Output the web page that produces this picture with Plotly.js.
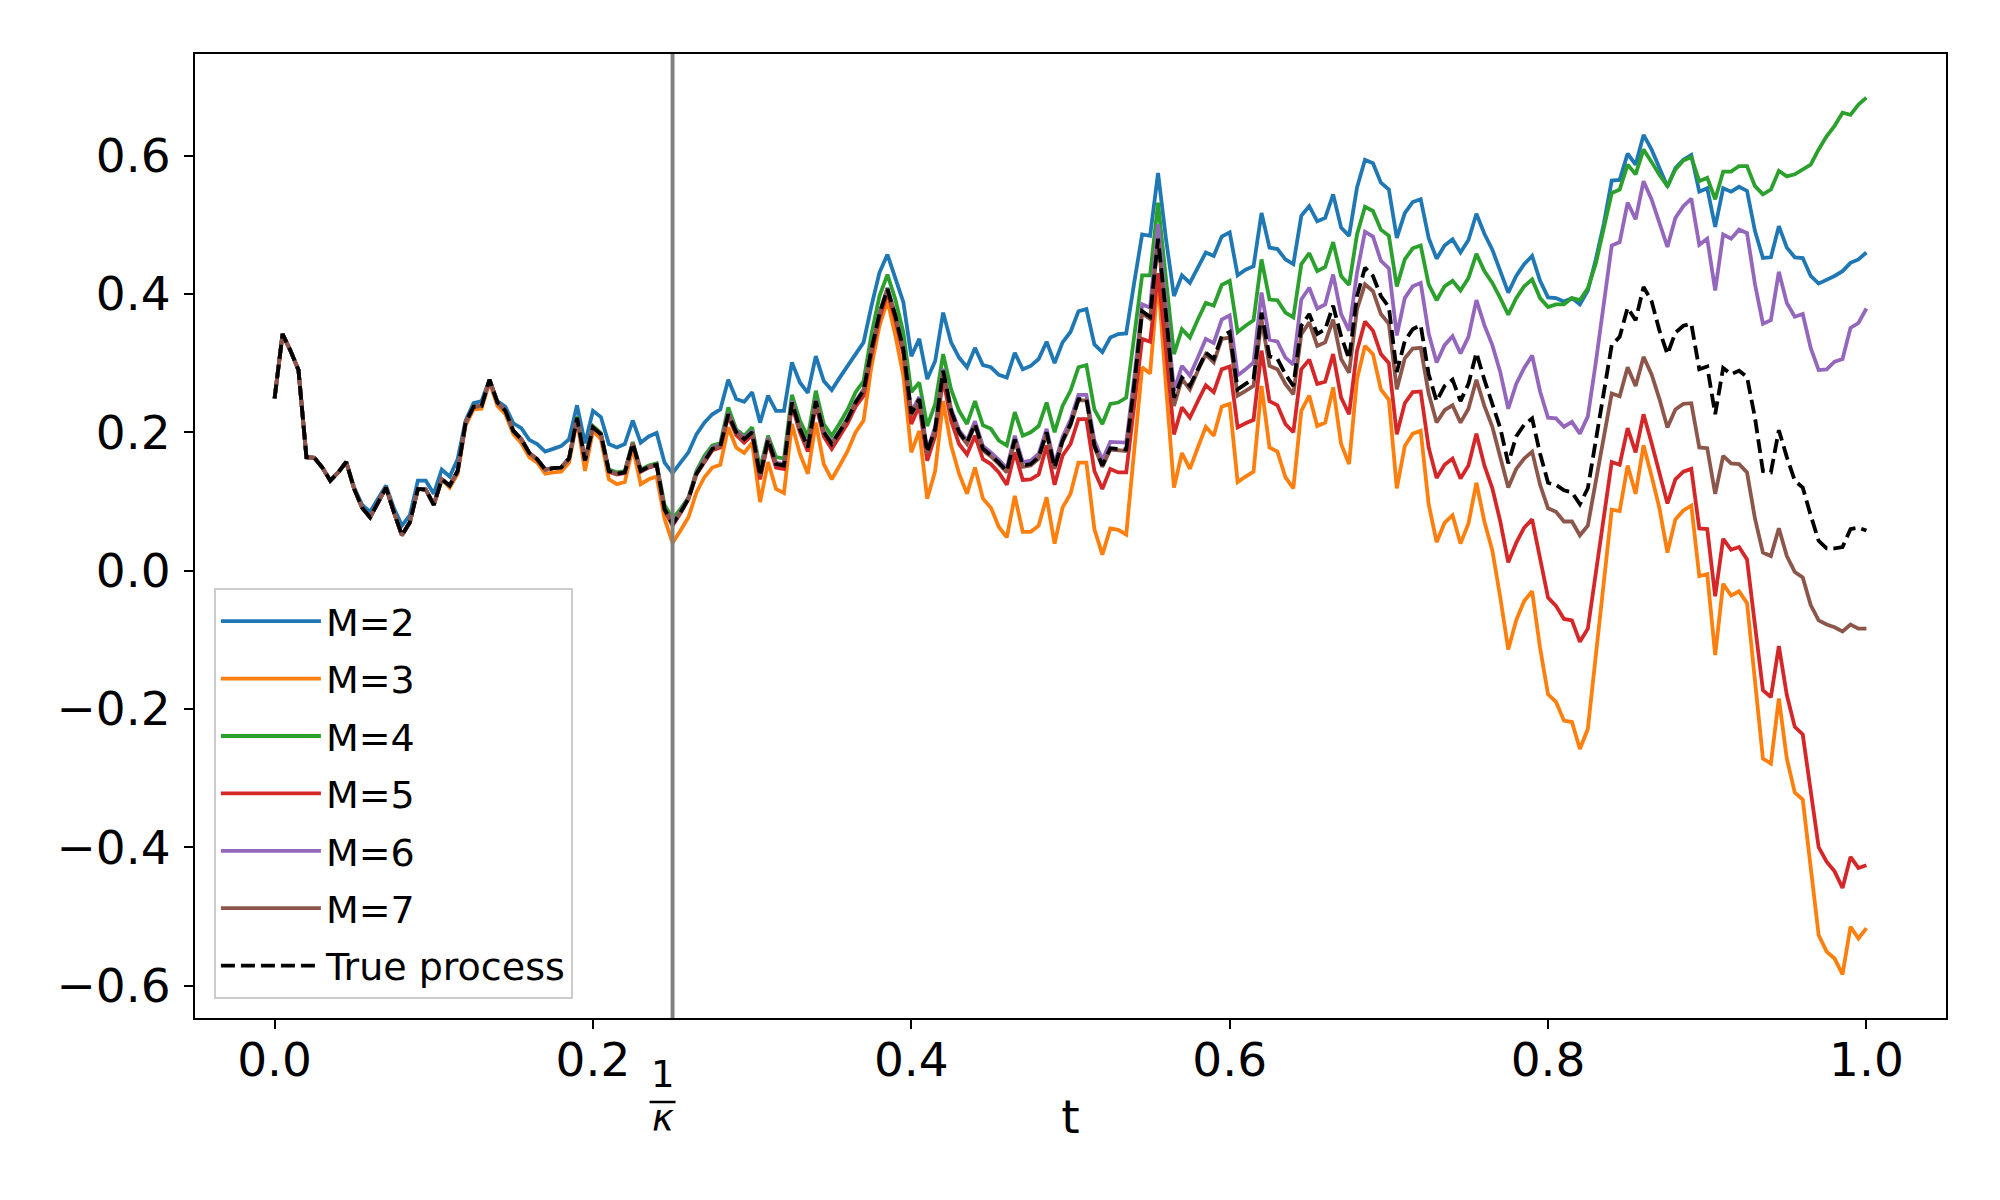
<!doctype html>
<html>
<head>
    <meta charset="utf-8">
    <title>M comparison</title>
    <style>
        body {margin: 0; background: #ffffff;}
    </style>
    <script src="https://cdn.plot.ly/plotly-3.0.1.min.js"></script>
    <script>
        // ====== DATA ==================================================
        const t = [
            0, 0.005, 0.01, 0.015, 0.02, 0.025, 0.03, 0.035, 0.04, 0.045,
            0.05, 0.055, 0.06, 0.065, 0.07, 0.075, 0.08, 0.085, 0.09, 0.095,
            0.1, 0.105, 0.11, 0.115, 0.12, 0.125, 0.13, 0.135, 0.14, 0.145,
            0.15, 0.155, 0.16, 0.165, 0.17, 0.175, 0.18, 0.185, 0.19, 0.195,
            0.2, 0.205, 0.21, 0.215, 0.22, 0.225, 0.23, 0.235, 0.24, 0.245,
            0.25, 0.255, 0.26, 0.265, 0.27, 0.275, 0.28, 0.285, 0.29, 0.295,
            0.3, 0.305, 0.31, 0.315, 0.32, 0.325, 0.33, 0.335, 0.34, 0.345,
            0.35, 0.355, 0.36, 0.365, 0.37, 0.375, 0.38, 0.385, 0.39, 0.395,
            0.4, 0.405, 0.41, 0.415, 0.42, 0.425, 0.43, 0.435, 0.44, 0.445,
            0.45, 0.455, 0.46, 0.465, 0.47, 0.475, 0.48, 0.485, 0.49, 0.495,
            0.5, 0.505, 0.51, 0.515, 0.52, 0.525, 0.53, 0.535, 0.54, 0.545,
            0.55, 0.555, 0.56, 0.565, 0.57, 0.575, 0.58, 0.585, 0.59, 0.595,
            0.6, 0.605, 0.61, 0.615, 0.62, 0.625, 0.63, 0.635, 0.64, 0.645,
            0.65, 0.655, 0.66, 0.665, 0.67, 0.675, 0.68, 0.685, 0.69, 0.695,
            0.7, 0.705, 0.71, 0.715, 0.72, 0.725, 0.73, 0.735, 0.74, 0.745,
            0.75, 0.755, 0.76, 0.765, 0.77, 0.775, 0.78, 0.785, 0.79, 0.795,
            0.8, 0.805, 0.81, 0.815, 0.82, 0.825, 0.83, 0.835, 0.84, 0.845,
            0.85, 0.855, 0.86, 0.865, 0.87, 0.875, 0.88, 0.885, 0.89, 0.895,
            0.9, 0.905, 0.91, 0.915, 0.92, 0.925, 0.93, 0.935, 0.94, 0.945,
            0.95, 0.955, 0.96, 0.965, 0.97, 0.975, 0.98, 0.985, 0.99, 0.995,
            1.0
        ];

        const m2 = [
            0.249, 0.342, 0.318, 0.290, 0.164, 0.163, 0.149, 0.130, 0.142, 0.157,
            0.120, 0.095, 0.085, 0.104, 0.123, 0.090, 0.065, 0.080, 0.130, 0.130,
            0.111, 0.146, 0.136, 0.161, 0.217, 0.242, 0.245, 0.276, 0.245, 0.237,
            0.213, 0.206, 0.189, 0.183, 0.172, 0.176, 0.180, 0.190, 0.239, 0.184,
            0.231, 0.222, 0.183, 0.178, 0.183, 0.217, 0.185, 0.194, 0.199, 0.156,
            0.141, 0.156, 0.171, 0.197, 0.214, 0.226, 0.233, 0.276, 0.248, 0.244,
            0.258, 0.214, 0.253, 0.231, 0.231, 0.301, 0.272, 0.257, 0.310, 0.274,
            0.261, 0.279, 0.296, 0.315, 0.330, 0.383, 0.431, 0.457, 0.421, 0.388,
            0.310, 0.335, 0.277, 0.303, 0.373, 0.330, 0.308, 0.294, 0.322, 0.297,
            0.294, 0.283, 0.279, 0.315, 0.291, 0.296, 0.306, 0.331, 0.300, 0.330,
            0.345, 0.375, 0.378, 0.327, 0.316, 0.337, 0.342, 0.343, 0.416, 0.486,
            0.484, 0.575, 0.479, 0.397, 0.427, 0.416, 0.438, 0.460, 0.455, 0.483,
            0.489, 0.427, 0.435, 0.440, 0.517, 0.467, 0.465, 0.450, 0.443, 0.513,
            0.527, 0.505, 0.510, 0.544, 0.496, 0.484, 0.554, 0.594, 0.589, 0.561,
            0.551, 0.481, 0.517, 0.533, 0.537, 0.481, 0.451, 0.470, 0.479, 0.460,
            0.478, 0.516, 0.487, 0.464, 0.433, 0.402, 0.426, 0.443, 0.455, 0.419,
            0.395, 0.394, 0.389, 0.394, 0.385, 0.405, 0.450, 0.501, 0.564, 0.565,
            0.603, 0.587, 0.630, 0.609, 0.582, 0.555, 0.582, 0.594, 0.601, 0.548,
            0.553, 0.497, 0.553, 0.548, 0.555, 0.549, 0.491, 0.452, 0.453, 0.498,
            0.467, 0.453, 0.452, 0.426, 0.415, 0.420, 0.426, 0.433, 0.445, 0.450,
            0.460
        ];

        const m3 = [
            0.249, 0.342, 0.318, 0.290, 0.164, 0.163, 0.149, 0.130, 0.142, 0.157,
            0.118, 0.091, 0.077, 0.099, 0.120, 0.084, 0.051, 0.070, 0.118, 0.117,
            0.095, 0.132, 0.120, 0.140, 0.210, 0.233, 0.234, 0.272, 0.238, 0.226,
            0.197, 0.184, 0.164, 0.156, 0.140, 0.142, 0.143, 0.156, 0.217, 0.144,
            0.202, 0.190, 0.132, 0.125, 0.128, 0.178, 0.125, 0.132, 0.136, 0.075,
            0.040, 0.058, 0.077, 0.113, 0.135, 0.149, 0.153, 0.207, 0.178, 0.170,
            0.185, 0.099, 0.157, 0.118, 0.112, 0.212, 0.169, 0.140, 0.214, 0.154,
            0.132, 0.152, 0.173, 0.200, 0.217, 0.296, 0.354, 0.390, 0.340, 0.282,
            0.171, 0.202, 0.104, 0.144, 0.245, 0.181, 0.140, 0.111, 0.149, 0.104,
            0.091, 0.063, 0.048, 0.108, 0.056, 0.056, 0.065, 0.106, 0.039, 0.091,
            0.111, 0.156, 0.156, 0.060, 0.023, 0.061, 0.059, 0.052, 0.180, 0.294,
            0.285, 0.421, 0.267, 0.120, 0.170, 0.147, 0.178, 0.208, 0.195, 0.237,
            0.241, 0.128, 0.136, 0.143, 0.267, 0.178, 0.172, 0.135, 0.119, 0.231,
            0.253, 0.209, 0.214, 0.265, 0.183, 0.154, 0.277, 0.325, 0.313, 0.262,
            0.247, 0.119, 0.180, 0.198, 0.202, 0.096, 0.041, 0.069, 0.080, 0.039,
            0.068, 0.127, 0.071, 0.029, -0.039, -0.114, -0.072, -0.044, -0.030, -0.112,
            -0.179, -0.190, -0.217, -0.219, -0.258, -0.229, -0.123, -0.016, 0.088, 0.086,
            0.152, 0.111, 0.181, 0.137, 0.090, 0.026, 0.074, 0.087, 0.094, -0.008,
            -0.005, -0.122, -0.019, -0.036, -0.030, -0.047, -0.166, -0.272, -0.279, -0.185,
            -0.272, -0.321, -0.331, -0.431, -0.527, -0.551, -0.561, -0.584, -0.515, -0.532,
            -0.517
        ];

        const m4 = [
            0.249, 0.342, 0.318, 0.290, 0.164, 0.163, 0.149, 0.130, 0.142, 0.157,
            0.118, 0.091, 0.077, 0.099, 0.120, 0.084, 0.051, 0.070, 0.118, 0.117,
            0.095, 0.132, 0.123, 0.144, 0.214, 0.237, 0.238, 0.276, 0.243, 0.231,
            0.202, 0.190, 0.170, 0.161, 0.146, 0.148, 0.149, 0.162, 0.223, 0.161,
            0.209, 0.199, 0.146, 0.142, 0.144, 0.186, 0.146, 0.152, 0.155, 0.095,
            0.075, 0.089, 0.106, 0.144, 0.166, 0.181, 0.184, 0.236, 0.204, 0.195,
            0.207, 0.147, 0.195, 0.164, 0.162, 0.254, 0.217, 0.193, 0.260, 0.212,
            0.195, 0.213, 0.233, 0.258, 0.274, 0.342, 0.397, 0.428, 0.392, 0.344,
            0.258, 0.272, 0.209, 0.241, 0.313, 0.262, 0.231, 0.212, 0.245, 0.210,
            0.205, 0.188, 0.181, 0.229, 0.195, 0.200, 0.209, 0.243, 0.200, 0.238,
            0.260, 0.294, 0.297, 0.233, 0.212, 0.241, 0.243, 0.250, 0.338, 0.427,
            0.427, 0.532, 0.421, 0.313, 0.349, 0.337, 0.363, 0.387, 0.383, 0.413,
            0.419, 0.345, 0.354, 0.362, 0.450, 0.392, 0.391, 0.373, 0.366, 0.443,
            0.459, 0.433, 0.439, 0.475, 0.426, 0.413, 0.486, 0.526, 0.520, 0.493,
            0.484, 0.411, 0.450, 0.466, 0.470, 0.414, 0.391, 0.411, 0.419, 0.405,
            0.423, 0.458, 0.433, 0.416, 0.394, 0.370, 0.394, 0.411, 0.421, 0.394,
            0.381, 0.385, 0.385, 0.394, 0.391, 0.408, 0.444, 0.495, 0.546, 0.551,
            0.587, 0.573, 0.609, 0.591, 0.572, 0.556, 0.580, 0.593, 0.598, 0.563,
            0.568, 0.537, 0.577, 0.577, 0.585, 0.585, 0.556, 0.544, 0.551, 0.578,
            0.570, 0.573, 0.580, 0.587, 0.609, 0.628, 0.643, 0.662, 0.659, 0.674,
            0.684
        ];

        const m5 = [
            0.249, 0.342, 0.318, 0.290, 0.164, 0.163, 0.149, 0.130, 0.142, 0.157,
            0.118, 0.091, 0.077, 0.099, 0.120, 0.084, 0.051, 0.070, 0.118, 0.117,
            0.095, 0.132, 0.123, 0.144, 0.214, 0.237, 0.238, 0.276, 0.243, 0.231,
            0.202, 0.190, 0.170, 0.161, 0.146, 0.148, 0.149, 0.162, 0.221, 0.159,
            0.207, 0.197, 0.143, 0.139, 0.141, 0.183, 0.143, 0.149, 0.152, 0.087,
            0.065, 0.083, 0.103, 0.139, 0.157, 0.174, 0.178, 0.223, 0.196, 0.185,
            0.196, 0.132, 0.186, 0.149, 0.147, 0.239, 0.200, 0.172, 0.240, 0.194,
            0.176, 0.194, 0.213, 0.237, 0.253, 0.313, 0.365, 0.402, 0.362, 0.313,
            0.212, 0.238, 0.159, 0.195, 0.277, 0.217, 0.183, 0.168, 0.195, 0.161,
            0.154, 0.142, 0.124, 0.171, 0.131, 0.132, 0.139, 0.181, 0.124, 0.166,
            0.183, 0.219, 0.219, 0.144, 0.118, 0.147, 0.142, 0.142, 0.235, 0.335,
            0.331, 0.430, 0.320, 0.197, 0.236, 0.221, 0.245, 0.268, 0.258, 0.291,
            0.295, 0.207, 0.213, 0.218, 0.318, 0.245, 0.239, 0.212, 0.200, 0.291,
            0.305, 0.270, 0.273, 0.313, 0.250, 0.226, 0.318, 0.360, 0.347, 0.313,
            0.300, 0.197, 0.242, 0.258, 0.259, 0.178, 0.134, 0.153, 0.162, 0.133,
            0.152, 0.198, 0.152, 0.119, 0.071, 0.012, 0.040, 0.062, 0.074, 0.017,
            -0.039, -0.051, -0.070, -0.072, -0.103, -0.084, -0.003, 0.076, 0.157, 0.153,
            0.206, 0.171, 0.226, 0.185, 0.142, 0.097, 0.132, 0.143, 0.147, 0.061,
            0.060, -0.037, 0.046, 0.030, 0.034, 0.016, -0.079, -0.173, -0.183, -0.109,
            -0.180, -0.226, -0.237, -0.318, -0.400, -0.421, -0.435, -0.459, -0.414, -0.430,
            -0.426
        ];

        const m6 = [
            0.249, 0.342, 0.318, 0.290, 0.164, 0.163, 0.149, 0.130, 0.142, 0.157,
            0.118, 0.091, 0.077, 0.099, 0.120, 0.084, 0.051, 0.070, 0.118, 0.117,
            0.095, 0.132, 0.123, 0.144, 0.214, 0.237, 0.238, 0.276, 0.243, 0.231,
            0.202, 0.190, 0.170, 0.161, 0.146, 0.148, 0.149, 0.162, 0.221, 0.159,
            0.207, 0.197, 0.144, 0.140, 0.142, 0.184, 0.144, 0.150, 0.153, 0.089,
            0.068, 0.085, 0.105, 0.141, 0.161, 0.178, 0.182, 0.228, 0.202, 0.192,
            0.202, 0.139, 0.192, 0.156, 0.154, 0.245, 0.207, 0.180, 0.247, 0.202,
            0.185, 0.202, 0.221, 0.245, 0.262, 0.322, 0.373, 0.409, 0.370, 0.322,
            0.229, 0.251, 0.174, 0.208, 0.292, 0.234, 0.203, 0.188, 0.216, 0.180,
            0.171, 0.160, 0.148, 0.195, 0.157, 0.159, 0.169, 0.205, 0.154, 0.193,
            0.218, 0.254, 0.254, 0.188, 0.160, 0.186, 0.186, 0.185, 0.278, 0.385,
            0.380, 0.501, 0.383, 0.260, 0.296, 0.282, 0.308, 0.335, 0.329, 0.363,
            0.369, 0.282, 0.291, 0.301, 0.402, 0.334, 0.331, 0.308, 0.298, 0.392,
            0.409, 0.379, 0.385, 0.428, 0.371, 0.347, 0.431, 0.490, 0.483, 0.448,
            0.437, 0.340, 0.394, 0.411, 0.416, 0.343, 0.301, 0.326, 0.339, 0.314,
            0.338, 0.391, 0.355, 0.326, 0.287, 0.234, 0.270, 0.293, 0.311, 0.259,
            0.221, 0.220, 0.208, 0.215, 0.198, 0.223, 0.301, 0.388, 0.470, 0.475,
            0.532, 0.508, 0.563, 0.537, 0.504, 0.468, 0.510, 0.527, 0.538, 0.471,
            0.480, 0.405, 0.486, 0.480, 0.493, 0.488, 0.414, 0.357, 0.362, 0.432,
            0.387, 0.367, 0.371, 0.322, 0.290, 0.291, 0.302, 0.306, 0.351, 0.358,
            0.379
        ];

        const m7 = [
            0.249, 0.342, 0.318, 0.290, 0.164, 0.163, 0.149, 0.130, 0.142, 0.157,
            0.118, 0.091, 0.077, 0.099, 0.120, 0.084, 0.051, 0.070, 0.118, 0.117,
            0.095, 0.132, 0.123, 0.144, 0.214, 0.237, 0.238, 0.276, 0.243, 0.231,
            0.202, 0.190, 0.170, 0.161, 0.146, 0.148, 0.149, 0.162, 0.221, 0.159,
            0.207, 0.197, 0.144, 0.140, 0.142, 0.184, 0.144, 0.150, 0.153, 0.089,
            0.067, 0.084, 0.104, 0.140, 0.159, 0.176, 0.180, 0.226, 0.200, 0.190,
            0.200, 0.137, 0.190, 0.154, 0.152, 0.243, 0.205, 0.178, 0.245, 0.200,
            0.183, 0.200, 0.219, 0.243, 0.260, 0.320, 0.371, 0.407, 0.368, 0.320,
            0.225, 0.246, 0.169, 0.203, 0.287, 0.229, 0.198, 0.183, 0.210, 0.174,
            0.165, 0.154, 0.142, 0.188, 0.150, 0.152, 0.162, 0.198, 0.147, 0.186,
            0.210, 0.246, 0.246, 0.179, 0.150, 0.175, 0.174, 0.173, 0.265, 0.372,
            0.364, 0.478, 0.366, 0.238, 0.277, 0.262, 0.289, 0.313, 0.301, 0.335,
            0.337, 0.253, 0.260, 0.267, 0.363, 0.296, 0.291, 0.270, 0.255, 0.342,
            0.359, 0.325, 0.330, 0.363, 0.306, 0.286, 0.378, 0.414, 0.404, 0.371,
            0.357, 0.262, 0.307, 0.321, 0.322, 0.256, 0.214, 0.232, 0.239, 0.214,
            0.234, 0.276, 0.238, 0.208, 0.164, 0.120, 0.147, 0.162, 0.172, 0.124,
            0.090, 0.085, 0.071, 0.071, 0.051, 0.065, 0.129, 0.193, 0.256, 0.252,
            0.294, 0.267, 0.309, 0.284, 0.248, 0.207, 0.233, 0.241, 0.242, 0.178,
            0.177, 0.111, 0.166, 0.155, 0.154, 0.142, 0.075, 0.026, 0.021, 0.061,
            0.021, -0.002, -0.010, -0.050, -0.072, -0.078, -0.082, -0.088, -0.078, -0.084,
            -0.084
        ];

        const trueProcess = [
            0.249, 0.342, 0.318, 0.290, 0.164, 0.163, 0.149, 0.130, 0.142, 0.157,
            0.118, 0.091, 0.077, 0.099, 0.120, 0.084, 0.051, 0.070, 0.118, 0.117,
            0.095, 0.132, 0.123, 0.144, 0.214, 0.237, 0.238, 0.276, 0.243, 0.231,
            0.202, 0.190, 0.170, 0.161, 0.146, 0.148, 0.149, 0.162, 0.221, 0.159,
            0.207, 0.197, 0.144, 0.140, 0.142, 0.184, 0.144, 0.150, 0.153, 0.089,
            0.067, 0.084, 0.104, 0.140, 0.159, 0.176, 0.180, 0.226, 0.200, 0.190,
            0.200, 0.137, 0.190, 0.154, 0.152, 0.243, 0.205, 0.178, 0.245, 0.200,
            0.183, 0.200, 0.219, 0.243, 0.260, 0.320, 0.371, 0.407, 0.368, 0.320,
            0.227, 0.248, 0.171, 0.205, 0.289, 0.231, 0.200, 0.185, 0.212, 0.176,
            0.167, 0.156, 0.144, 0.190, 0.152, 0.154, 0.164, 0.200, 0.149, 0.188,
            0.212, 0.248, 0.248, 0.181, 0.152, 0.177, 0.176, 0.175, 0.268, 0.375,
            0.367, 0.480, 0.370, 0.250, 0.279, 0.267, 0.291, 0.315, 0.306, 0.339,
            0.345, 0.262, 0.270, 0.277, 0.373, 0.310, 0.306, 0.284, 0.267, 0.354,
            0.371, 0.342, 0.349, 0.383, 0.339, 0.306, 0.397, 0.438, 0.426, 0.397,
            0.381, 0.287, 0.332, 0.349, 0.355, 0.284, 0.245, 0.267, 0.276, 0.245,
            0.270, 0.315, 0.276, 0.242, 0.206, 0.155, 0.194, 0.211, 0.220, 0.169,
            0.127, 0.124, 0.116, 0.113, 0.096, 0.119, 0.189, 0.259, 0.326, 0.338,
            0.380, 0.362, 0.410, 0.390, 0.347, 0.313, 0.344, 0.354, 0.357, 0.291,
            0.295, 0.226, 0.293, 0.284, 0.289, 0.280, 0.221, 0.144, 0.142, 0.203,
            0.164, 0.130, 0.120, 0.080, 0.043, 0.032, 0.032, 0.034, 0.060, 0.062,
            0.058
        ];

        const seriesNames = ['M=2', 'M=3', 'M=4', 'M=5', 'M=6', 'M=7'];
        const seriesValues = [m2, m3, m4, m5, m6, m7];
        const trueName = 'True process';

        const kappaInv = 0.25;   // 1/kappa, marked with the grey vertical line

        const xTickVals = [0, 0.2, 0.4, 0.6, 0.8, 1.0];
        const xTickText = ['0.0', '0.2', '0.4', '0.6', '0.8', '1.0'];
        const yTickVals = [-0.6, -0.4, -0.2, 0, 0.2, 0.4, 0.6];
        const yTickText = ['\u22120.6', '\u22120.4', '\u22120.2', '0.0', '0.2', '0.4', '0.6'];

        function drawPlot() {
            // ====== SETTINGS ==================================================
            let colors = ['#1f77b4', '#ff7f0e', '#2ca02c', '#d62728', '#9467bd', '#8c564b'];
            let font = 'DejaVu Sans, Liberation Sans, sans-serif';
            let lw = 3.8;

            let layout = {
                width: 2000,
                height: 1200,
                margin: {l: 195, r: 54, t: 54, b: 182},
                paper_bgcolor: '#ffffff',
                plot_bgcolor: '#ffffff',
                font: {family: font, color: '#000000', size: 47},
                showlegend: true,
                hovermode: false,
                xaxis: {
                    range: [-0.05, 1.05],
                    tickmode: 'array',
                    tickvals: xTickVals,
                    ticktext: xTickText,
                    ticks: 'outside',
                    ticklen: 9,
                    tickwidth: 2,
                    tickcolor: '#000000',
                    tickfont: {size: 47},
                    ticklabelstandoff: -9,
                    showline: true,
                    linecolor: '#000000',
                    linewidth: 2,
                    mirror: true,
                    showgrid: false,
                    zeroline: false,
                    title: {text: 't', font: {size: 47}, standoff: 14},
                },
                yaxis: {
                    range: [-0.647, 0.747],
                    tickmode: 'array',
                    tickvals: yTickVals,
                    ticktext: yTickText,
                    ticks: 'outside',
                    ticklen: 9,
                    tickwidth: 2,
                    tickcolor: '#000000',
                    tickfont: {size: 47},
                    ticklabelstandoff: 4,
                    showline: true,
                    linecolor: '#000000',
                    linewidth: 2,
                    mirror: true,
                    showgrid: false,
                    zeroline: false,
                },
                legend: {
                    x: 0.0108,
                    y: 0.0197,
                    xanchor: 'left',
                    yanchor: 'bottom',
                    bgcolor: 'rgba(255,255,255,0.8)',
                    bordercolor: '#cccccc',
                    borderwidth: 2,
                    font: {family: font, size: 38, color: '#000000'},
                    traceorder: 'grouped',
                    tracegroupgap: 5,
                    itemwidth: 100,
                },
                shapes: [
                    {
                        type: 'line',
                        xref: 'x', yref: 'paper',
                        x0: kappaInv, x1: kappaInv, y0: 0, y1: 1,
                        line: {color: '#808080', width: 3.9},
                        layer: 'above',
                    },
                    // fraction bar of the 1/kappa tick label
                    {
                        type: 'line',
                        xref: 'x', yref: 'paper',
                        xsizemode: 'pixel', ysizemode: 'pixel',
                        xanchor: kappaInv, yanchor: 0,
                        x0: -23, x1: 3, y0: -84, y1: -84,
                        line: {color: '#000000', width: 2.5},
                    },
                ],
                annotations: [
                    {
                        text: '1',
                        xref: 'x', yref: 'paper',
                        x: kappaInv, y: -0.059,
                        xanchor: 'center', yanchor: 'middle',
                        xshift: -10,
                        showarrow: false,
                        font: {family: font, size: 37},
                    },
                    {
                        text: '<i>\u03ba</i>',
                        xref: 'x', yref: 'paper',
                        x: kappaInv, y: -0.104,
                        xanchor: 'center', yanchor: 'middle',
                        xshift: -10,
                        showarrow: false,
                        font: {family: font, size: 37},
                    },
                ],
            };

            let config = {
                displayModeBar: false,
                staticPlot: true,
            };

            // ====== PLOT ==================================================
            let traces = [];
            for (let i = 0; i < seriesNames.length; i++) {
                traces.push({
                    x: t,
                    y: seriesValues[i],
                    name: seriesNames[i],
                    legendgroup: seriesNames[i],
                    type: 'scatter',
                    mode: 'lines',
                    line: {color: colors[i], width: lw},
                });
            }
            traces.push({
                x: t,
                y: trueProcess,
                name: trueName,
                legendgroup: trueName,
                type: 'scatter',
                mode: 'lines',
                line: {color: '#000000', width: lw, dash: '14px,6px'},
            });

            Plotly.newPlot(document.getElementById('plot'), traces, layout, config);
        }
    </script>
</head>
<body onload="drawPlot();">

    <div id="plot"></div>

</body>
</html>
